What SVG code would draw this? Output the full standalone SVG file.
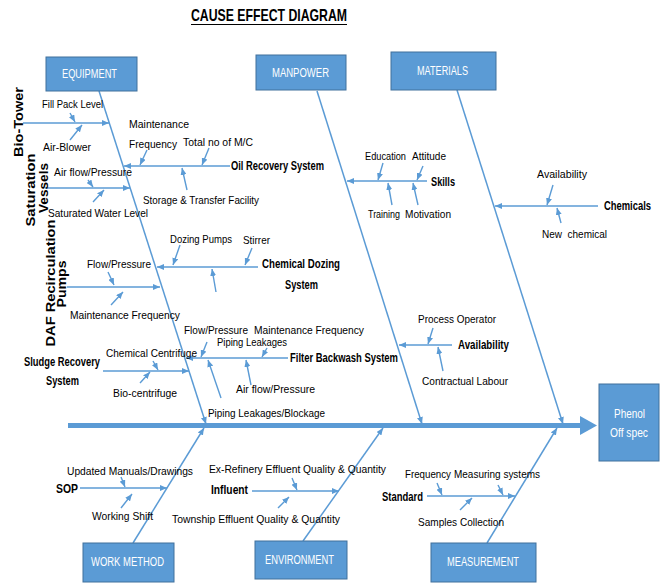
<svg xmlns="http://www.w3.org/2000/svg" width="664" height="583" viewBox="0 0 664 583">
<defs>
<marker id="ah" markerUnits="userSpaceOnUse" markerWidth="7" markerHeight="6" refX="7" refY="3" orient="auto">
<path d="M0,0 L7,3 L0,6 z" fill="#5b9bd5"/>
</marker>
<style>
text{font-family:"Liberation Sans Narrow","Liberation Sans",Arial,sans-serif;font-size:11.5px;fill:#000}
.b{font-weight:bold;font-size:12px}
.w{fill:#fff;font-size:12.5px}
.box{fill:#5b9bd5;stroke:#41719c;stroke-width:1}
.ln{stroke:#5b9bd5;stroke-width:1.4;fill:none;marker-end:url(#ah)}
.bone{stroke:#5b9bd5;stroke-width:1.5;fill:none;marker-end:url(#ah)}
.rot{font-weight:bold;font-size:12.5px}
</style>
</defs>
<rect width="664" height="583" fill="#fff"/>
<g id="title">
<text x="191" y="21" class="b" style="font-size:17px" textLength="156" lengthAdjust="spacingAndGlyphs">CAUSE EFFECT DIAGRAM</text>
<line x1="191" y1="24.5" x2="347" y2="24.5" stroke="#000" stroke-width="1.2"/>
</g>
<g id="connectors">
<line x1="68" y1="425.5" x2="582" y2="425.5" stroke="#5b9bd5" stroke-width="5"/>
<polygon points="580,416 597,425.5 580,435" fill="#5b9bd5"/>
<line class="bone" x1="99" y1="91" x2="206" y2="424"/>
<line class="bone" x1="317" y1="91" x2="422" y2="424"/>
<line class="bone" x1="457" y1="90" x2="563" y2="424"/>
<line class="bone" x1="133" y1="543" x2="204" y2="428"/>
<line class="bone" x1="303" y1="541" x2="383" y2="428"/>
<line class="bone" x1="487" y1="543" x2="557" y2="428"/>
<line class="ln" x1="23" y1="123" x2="109" y2="123"/>
<line class="ln" x1="45" y1="188" x2="130" y2="188"/>
<line class="ln" x1="230" y1="166" x2="124" y2="166"/>
<line class="ln" x1="258" y1="267" x2="157" y2="267"/>
<line class="ln" x1="67" y1="287" x2="160" y2="287"/>
<line class="ln" x1="288" y1="358" x2="186" y2="358"/>
<line class="ln" x1="103" y1="371" x2="189" y2="371"/>
<line class="ln" x1="427" y1="181" x2="347" y2="181"/>
<line class="ln" x1="452" y1="345" x2="399" y2="345"/>
<line class="ln" x1="598" y1="206" x2="495" y2="206"/>
<line class="ln" x1="80" y1="488" x2="167" y2="488"/>
<line class="ln" x1="252" y1="491" x2="339" y2="491"/>
<line class="ln" x1="427" y1="496" x2="515" y2="496"/>
<line class="ln" x1="70" y1="113" x2="75" y2="122"/>
<line class="ln" x1="70" y1="140" x2="82" y2="125"/>
<line class="ln" x1="147" y1="150" x2="140" y2="165"/>
<line class="ln" x1="209" y1="148" x2="202" y2="165"/>
<line class="ln" x1="187" y1="190" x2="182" y2="168"/>
<line class="ln" x1="88" y1="180" x2="93" y2="187"/>
<line class="ln" x1="93" y1="202" x2="104" y2="190"/>
<line class="ln" x1="180" y1="245" x2="173" y2="265"/>
<line class="ln" x1="252" y1="248" x2="245" y2="265"/>
<line class="ln" x1="216" y1="292" x2="212" y2="269"/>
<line class="ln" x1="108" y1="272" x2="114" y2="285"/>
<line class="ln" x1="111" y1="305" x2="123" y2="292"/>
<line class="ln" x1="207" y1="342" x2="201" y2="357"/>
<line class="ln" x1="267" y1="348" x2="262" y2="357"/>
<line class="ln" x1="221" y1="398" x2="208" y2="360"/>
<line class="ln" x1="251" y1="385" x2="246" y2="360"/>
<line class="ln" x1="153" y1="361" x2="158" y2="370"/>
<line class="ln" x1="140" y1="383" x2="150" y2="372"/>
<line class="ln" x1="383" y1="163" x2="378" y2="180"/>
<line class="ln" x1="423" y1="166" x2="417" y2="180"/>
<line class="ln" x1="392" y1="205" x2="388" y2="183"/>
<line class="ln" x1="418" y1="205" x2="413" y2="183"/>
<line class="ln" x1="433" y1="328" x2="428" y2="344"/>
<line class="ln" x1="443" y1="371" x2="438" y2="347"/>
<line class="ln" x1="553" y1="185" x2="547" y2="205"/>
<line class="ln" x1="561" y1="223" x2="557" y2="208"/>
<line class="ln" x1="121" y1="477" x2="125" y2="487"/>
<line class="ln" x1="121" y1="508" x2="132" y2="494"/>
<line class="ln" x1="292" y1="478" x2="297" y2="490"/>
<line class="ln" x1="278" y1="508" x2="289" y2="497"/>
<line class="ln" x1="437" y1="483" x2="442" y2="495"/>
<line class="ln" x1="498" y1="485" x2="503" y2="495"/>
<line class="ln" x1="460" y1="510" x2="472" y2="498"/>
</g>
<g id="equipment"><rect class="box" x="46" y="57" width="91" height="34"/><text class="w" x="62" y="78" textLength="55" lengthAdjust="spacingAndGlyphs">EQUIPMENT</text></g>
<g id="manpower"><rect class="box" x="256" y="55" width="90" height="35"/><text class="w" x="272" y="77" textLength="57" lengthAdjust="spacingAndGlyphs">MANPOWER</text></g>
<g id="materials"><rect class="box" x="391" y="52" width="105" height="38"/><text class="w" x="417" y="75" textLength="51" lengthAdjust="spacingAndGlyphs">MATERIALS</text></g>
<g id="work-method"><rect class="box" x="83" y="543" width="91" height="39"/><text class="w" x="91" y="566" textLength="73" lengthAdjust="spacingAndGlyphs">WORK METHOD</text></g>
<g id="environment"><rect class="box" x="255" y="541" width="92" height="38"/><text class="w" x="265" y="564" textLength="69" lengthAdjust="spacingAndGlyphs">ENVIRONMENT</text></g>
<g id="measurement"><rect class="box" x="431" y="543" width="105" height="39"/><text class="w" x="447" y="566" textLength="72" lengthAdjust="spacingAndGlyphs">MEASUREMENT</text></g>
<g id="phenol"><rect class="box" x="599" y="384" width="60" height="77"/><text class="w" x="614" y="418" style="font-size:13.5px" textLength="31" lengthAdjust="spacingAndGlyphs">Phenol</text><text class="w" x="610" y="437" style="font-size:13.5px" textLength="38" lengthAdjust="spacingAndGlyphs">Off spec</text></g>
<g id="bio-tower">
<text class="rot" transform="translate(23,122) rotate(-90)" text-anchor="middle" textLength="70" lengthAdjust="spacingAndGlyphs">Bio-Tower</text>
<text x="42" y="108" textLength="61" lengthAdjust="spacingAndGlyphs">Fill Pack Level</text>
<text x="43" y="151" textLength="48" lengthAdjust="spacingAndGlyphs">Air-Blower</text>
</g>
<g id="saturation-vessels">
<text class="rot" transform="translate(35,190) rotate(-90)" text-anchor="middle" textLength="73" lengthAdjust="spacingAndGlyphs">Saturation</text>
<text class="rot" transform="translate(48,188) rotate(-90)" text-anchor="middle" textLength="50" lengthAdjust="spacingAndGlyphs">Vessels</text>
<text x="54" y="176" textLength="78" lengthAdjust="spacingAndGlyphs">Air flow/Pressure</text>
<text x="48" y="217" textLength="100" lengthAdjust="spacingAndGlyphs">Saturated Water Level</text>
</g>
<g id="oil-recovery">
<text class="b" x="231" y="170" textLength="93" lengthAdjust="spacingAndGlyphs">Oil Recovery System</text>
<text x="129" y="128" textLength="60" lengthAdjust="spacingAndGlyphs">Maintenance</text>
<text x="129" y="148" textLength="48" lengthAdjust="spacingAndGlyphs">Frequency</text>
<text x="183" y="146" textLength="70" lengthAdjust="spacingAndGlyphs">Total no of M/C</text>
<text x="143" y="204" textLength="116" lengthAdjust="spacingAndGlyphs">Storage &amp; Transfer Facility</text>
</g>
<g id="chemical-dozing">
<text class="b" x="262" y="268" textLength="78" lengthAdjust="spacingAndGlyphs">Chemical Dozing</text>
<text class="b" x="285" y="289" textLength="33" lengthAdjust="spacingAndGlyphs">System</text>
<text x="170" y="243" textLength="62" lengthAdjust="spacingAndGlyphs">Dozing Pumps</text>
<text x="243" y="244" textLength="27" lengthAdjust="spacingAndGlyphs">Stirrer</text>
</g>
<g id="daf-pumps">
<text class="rot" transform="translate(55,283) rotate(-90)" text-anchor="middle" textLength="127" lengthAdjust="spacingAndGlyphs">DAF Recirculation</text>
<text class="rot" transform="translate(66,284) rotate(-90)" text-anchor="middle" textLength="47" lengthAdjust="spacingAndGlyphs">Pumps</text>
<text x="87" y="268" textLength="64" lengthAdjust="spacingAndGlyphs">Flow/Pressure</text>
<text x="70" y="319" textLength="110" lengthAdjust="spacingAndGlyphs">Maintenance Frequency</text>
</g>
<g id="filter-backwash">
<text class="b" x="290" y="362" textLength="108" lengthAdjust="spacingAndGlyphs">Filter Backwash System</text>
<text x="184" y="334" textLength="64" lengthAdjust="spacingAndGlyphs">Flow/Pressure</text>
<text x="254" y="334" textLength="110" lengthAdjust="spacingAndGlyphs">Maintenance Frequency</text>
<text x="217" y="346" textLength="70" lengthAdjust="spacingAndGlyphs">Piping Leakages</text>
<text x="236" y="393" textLength="79" lengthAdjust="spacingAndGlyphs">Air flow/Pressure</text>
<text x="208" y="417" textLength="117" lengthAdjust="spacingAndGlyphs">Piping Leakages/Blockage</text>
</g>
<g id="sludge-recovery">
<text class="b" x="24" y="366" textLength="76" lengthAdjust="spacingAndGlyphs">Sludge Recovery</text>
<text class="b" x="46" y="385" textLength="33" lengthAdjust="spacingAndGlyphs">System</text>
<text x="106" y="357" textLength="91" lengthAdjust="spacingAndGlyphs">Chemical Centrifuge</text>
<text x="113" y="397" textLength="64" lengthAdjust="spacingAndGlyphs">Bio-centrifuge</text>
</g>
<g id="skills">
<text class="b" x="431" y="186" textLength="24" lengthAdjust="spacingAndGlyphs">Skills</text>
<text x="365" y="160" textLength="41" lengthAdjust="spacingAndGlyphs">Education</text>
<text x="412" y="160" textLength="34" lengthAdjust="spacingAndGlyphs">Attitude</text>
<text x="368" y="218" textLength="32" lengthAdjust="spacingAndGlyphs">Training</text>
<text x="405" y="218" textLength="46" lengthAdjust="spacingAndGlyphs">Motivation</text>
</g>
<g id="availability">
<text class="b" x="458" y="349" textLength="51" lengthAdjust="spacingAndGlyphs">Availability</text>
<text x="418" y="323" textLength="78" lengthAdjust="spacingAndGlyphs">Process Operator</text>
<text x="422" y="385" textLength="86" lengthAdjust="spacingAndGlyphs">Contractual Labour</text>
</g>
<g id="chemicals">
<text class="b" x="604" y="210" textLength="47" lengthAdjust="spacingAndGlyphs">Chemicals</text>
<text x="537" y="178" textLength="50" lengthAdjust="spacingAndGlyphs">Availability</text>
<text x="542" y="238" textLength="65" lengthAdjust="spacingAndGlyphs" xml:space="preserve">New  chemical</text>
</g>
<g id="sop">
<text class="b" x="56" y="493" textLength="22" lengthAdjust="spacingAndGlyphs">SOP</text>
<text x="67" y="475" textLength="126" lengthAdjust="spacingAndGlyphs">Updated Manuals/Drawings</text>
<text x="92" y="520" textLength="61" lengthAdjust="spacingAndGlyphs">Working Shift</text>
</g>
<g id="influent">
<text class="b" x="211" y="494" textLength="37" lengthAdjust="spacingAndGlyphs">Influent</text>
<text x="209" y="473" textLength="177" lengthAdjust="spacingAndGlyphs">Ex-Refinery Effluent Quality &amp; Quantity</text>
<text x="172" y="523" textLength="168" lengthAdjust="spacingAndGlyphs">Township Effluent Quality &amp; Quantity</text>
</g>
<g id="standard">
<text class="b" x="382" y="501" textLength="41" lengthAdjust="spacingAndGlyphs">Standard</text>
<text x="405" y="478" textLength="46" lengthAdjust="spacingAndGlyphs">Frequency</text>
<text x="454" y="478" textLength="86" lengthAdjust="spacingAndGlyphs">Measuring systems</text>
<text x="418" y="526" textLength="86" lengthAdjust="spacingAndGlyphs">Samples Collection</text>
</g>
</svg>
